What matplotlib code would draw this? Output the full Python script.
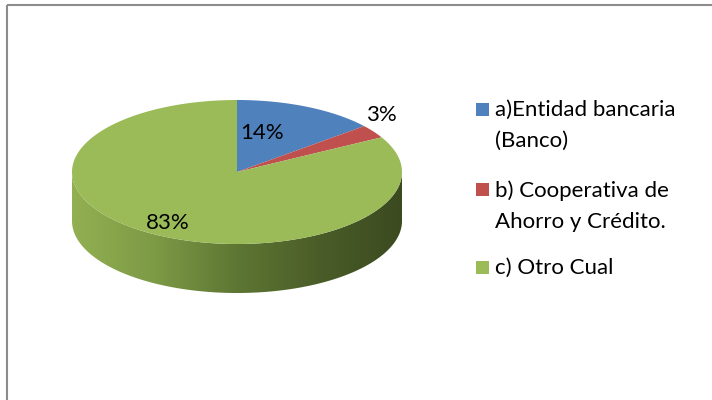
import numpy as np
import matplotlib
matplotlib.use('Agg')
import matplotlib.pyplot as plt
from matplotlib.patches import Polygon, Rectangle
from matplotlib.colors import LinearSegmentedColormap

# Data
labels = ['a)Entidad bancaria\n(Banco)', 'b) Cooperativa de\nAhorro y Crédito.', 'c) Otro Cual']
values = [14, 3, 83]
pct_text = ['14%', '3%', '83%']
colors = ['#4F81BD', '#C0504D', '#9BBB59']

plt.rcParams['font.family'] = ['Lato', 'DejaVu Sans']

fig = plt.figure(figsize=(7.12, 4.0), dpi=100)
ax = fig.add_axes([0, 0, 1, 1])
ax.set_xlim(0, 712)
ax.set_ylim(400, 0)
ax.axis('off')

# pie geometry (pixels)
cx, cy = 237, 172
a, b = 165, 72
depth = 49

def ell(t):
    return cx + a*np.cos(t), cy - b*np.sin(t)

# angles: start at 90 deg, go clockwise
frac = np.array(values, float) / np.sum(values)
starts = 90 - 360*np.concatenate([[0], np.cumsum(frac)[:-1]])
ends = starts - 360*frac

# side (front half), only green is visible there
t = np.linspace(np.pi, 2*np.pi, 200)
xs, ys = ell(t)
side = np.vstack([np.column_stack([xs, ys]), np.column_stack([xs[::-1], ys[::-1] + depth])])
side_poly = Polygon(side, closed=True, facecolor='none', edgecolor='none')
ax.add_patch(side_poly)
cmap = LinearSegmentedColormap.from_list('side', ['#92B052', '#7D9A45', '#5E7633', '#4A5D28', '#3C4A20'])
grad = np.linspace(0, 1, 256).reshape(1, -1)
im = ax.imshow(grad, cmap=cmap, extent=[cx-a, cx+a, cy+b+depth, cy-5], aspect='auto', zorder=1)
im.set_clip_path(side_poly)

# top surface wedges
for s, e, c in zip(starts, ends, colors):
    tt = np.radians(np.linspace(s, e, 200))
    x, y = ell(tt)
    pts = np.vstack([[cx, cy], np.column_stack([x, y])])
    ax.add_patch(Polygon(pts, closed=True, facecolor=c, edgecolor='none', zorder=2))

# percentage labels
lbl_pos = [(262, 133), (381, 115), (168, 223)]
for (x, y), s in zip(lbl_pos, pct_text):
    ax.text(x, y, s, fontsize=16, ha='center', va='center', color='black', zorder=3)

# legend
leg_y = [110, 190, 268]
for y, lab, c in zip(leg_y, labels, colors):
    ax.add_patch(Rectangle((476, y - 7), 13, 13, facecolor=c, edgecolor='none'))
    ax.text(495, y - 10, lab, fontsize=16, ha='left', va='top', linespacing=1.7)

# chart border
ax.add_patch(Rectangle((7, 5), 720, 410, facecolor='none', edgecolor='#8C8C8C', lw=1.5))

fig.savefig('out.png', dpi=100)
